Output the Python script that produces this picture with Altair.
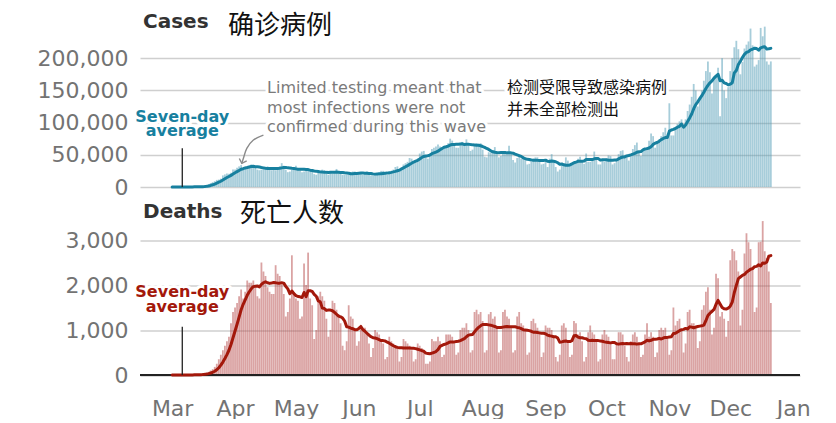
import altair as alt
import pandas as pd

START_DATE = "2020-03-01"

# ---------------- daily confirmed cases (Mar 1 - Dec 21, 2020) ----------------
CASES_MAR = [20, 25, 20, 30, 70, 80, 100, 120, 190, 190,
             300, 450, 550, 650, 800, 1000, 1500, 2500, 4600, 6000,
             7500, 9000, 11000, 11500, 13000, 18000, 19500, 21000, 20500, 22000, 27000]
CASES_APR = [27000, 30000, 32000, 34000, 27000, 30000, 32000, 33000, 35000, 34000,
             30000, 27000, 26000, 27000, 29000, 31000, 32000, 29000, 26000, 28000,
             26000, 30000, 32000, 37000, 33000, 27000, 23000, 24000, 27000, 30000]
CASES_MAY = [33000, 29000, 26000, 23000, 24000, 25000, 29000, 27000, 26000, 20000,
             19000, 22000, 21000, 27000, 26000, 24000, 19000, 22000, 21000, 22000,
             28000, 24000, 22000, 19000, 19000, 19000, 19000, 22000, 24000, 24000, 20000]
CASES_JUN = [21000, 21000, 19000, 21000, 24000, 22000, 18000, 17000, 19000, 21000,
             22000, 25000, 25000, 20000, 19000, 23000, 25000, 27000, 31000, 32000,
             27000, 31000, 35000, 37000, 39000, 45000, 44000, 40000, 41000, 44000]
CASES_JUL = [52000, 55000, 56000, 48000, 44000, 48000, 59000, 61000, 63000, 66000,
             63000, 59000, 61000, 64000, 68000, 75000, 72000, 64000, 61000, 61000,
             66000, 70000, 68000, 74000, 66000, 56000, 58000, 65000, 68000, 67000, 68000]
CASES_AUG = [58000, 47000, 46000, 54000, 53000, 57000, 62000, 55000, 46000, 48000,
             53000, 55000, 52000, 64000, 53000, 42000, 38000, 45000, 47000, 44000,
             48000, 44000, 35000, 36000, 39000, 44000, 46000, 46000, 43000, 35000, 36000]
CASES_SEP = [42000, 31000, 44000, 51000, 40000, 31000, 24000, 27000, 33000, 35000,
             46000, 41000, 34000, 35000, 39000, 40000, 44000, 47000, 42000, 36000,
             52000, 39000, 39000, 43000, 55000, 46000, 35000, 35000, 42000, 39000]
CASES_OCT = [44000, 49000, 48000, 35000, 37000, 42000, 51000, 56000, 57000, 49000,
             46000, 41000, 49000, 59000, 65000, 69000, 54000, 48000, 59000, 60000,
             62000, 72000, 83000, 79000, 61000, 67000, 74000, 79000, 85000, 92000, 80000]
CASES_NOV = [130000, 80000, 80000, 90000, 98000, 102000, 105000, 95000, 105000, 118000,
             128000, 140000, 160000, 150000, 125000, 140000, 150000, 165000, 180000, 195000,
             178000, 145000, 170000, 172000, 185000, 110000, 200000, 150000, 138000, 155000]
CASES_DEC = [180000, 200000, 217000, 227000, 214000, 175000, 194000, 215000, 221000, 226000,
             246000, 220000, 187000, 190000, 197000, 247000, 234000, 249000, 195000, 190000, 195000]

# ---------------- daily deaths (Mar 1 - Dec 21, 2020) ----------------
DEATHS_MAR = [0, 1, 1, 2, 1, 2, 1, 2, 3, 4,
              4, 6, 8, 8, 15, 25, 35, 50, 70, 100,
              130, 180, 250, 350, 450, 550, 650, 750, 850, 1150, 1400]
DEATHS_APR = [1500, 1600, 1750, 1900, 1700, 1850, 2100, 2050, 2050, 2100,
              1950, 1750, 1700, 2500, 2300, 2200, 1950, 1850, 1800, 1800,
              2440, 2250, 2200, 2000, 1800, 1300, 1400, 1700, 2660, 1800]
DEATHS_MAY = [1700, 1650, 1250, 1300, 2480, 2000, 2720, 1700, 1550, 800,
              1000, 1750, 1850, 1750, 1650, 1250, 850, 1000, 1650, 1600,
              1450, 1350, 1150, 650, 550, 750, 1550, 1300, 1250, 1000, 650]
DEATHS_JUN = [750, 1050, 1050, 1050, 950, 700, 400, 600, 1000, 950,
              900, 800, 700, 350, 400, 850, 750, 700, 650, 600,
              300, 400, 800, 750, 700, 650, 550, 300, 350, 700]
DEATHS_JUL = [650, 600, 550, 250, 250, 300, 800, 750, 750, 850,
              750, 400, 450, 900, 900, 900, 850, 750, 450, 500,
              1000, 1050, 1050, 1150, 1000, 500, 550, 1400, 1450, 1350, 1400]
DEATHS_AUG = [1200, 500, 550, 1350, 1400, 1250, 1300, 1050, 500, 550,
              1400, 1450, 1300, 1250, 1050, 500, 550, 1300, 1400, 1150,
              1100, 1000, 450, 500, 1200, 1250, 1150, 1050, 950, 400, 500]
DEATHS_SEP = [1100, 1050, 1050, 1000, 850, 400, 300, 450, 1100, 1150,
              1050, 750, 400, 450, 1200, 1150, 900, 950, 750, 300,
              400, 950, 1100, 950, 900, 750, 300, 350, 900, 1000]
DEATHS_OCT = [900, 850, 700, 350, 350, 700, 950, 950, 900, 650,
              400, 300, 750, 900, 950, 850, 700, 400, 450, 900,
              1150, 850, 950, 850, 400, 500, 1000, 1050, 1000, 1050, 850]
DEATHS_NOV = [450, 550, 1500, 1100, 1200, 1250, 1000, 500, 700, 1400,
              1450, 1150, 1150, 1100, 600, 750, 1450, 1550, 1850, 1950,
              1450, 900, 1050, 2250, 2150, 1300, 1400, 1250, 850, 1200]
DEATHS_DEC = [2550, 2800, 2750, 2550, 2300, 1100, 1450, 2700, 3150, 2950,
              2800, 2400, 1400, 1500, 2950, 2960, 3420, 2750, 2600, 2300, 1600]

CASES = (CASES_MAR + CASES_APR + CASES_MAY + CASES_JUN + CASES_JUL + CASES_AUG
         + CASES_SEP + CASES_OCT + CASES_NOV + CASES_DEC)
DEATHS = (DEATHS_MAR + DEATHS_APR + DEATHS_MAY + DEATHS_JUN + DEATHS_JUL + DEATHS_AUG
          + DEATHS_SEP + DEATHS_OCT + DEATHS_NOV + DEATHS_DEC)

CASES_TICKS = [0, 50000, 100000, 150000, 200000]
DEATHS_TICKS = [0, 1000, 2000, 3000]

# annotation texts and their anchor (date, value) in data space
CASES_TITLE = ["Cases"]
CASES_TITLE_CN = ["确诊病例"]
DEATHS_TITLE = ["Deaths"]
DEATHS_TITLE_CN = ["死亡人数"]
AVG_LABEL = ["Seven-day", "average"]
NOTE_EN = ["Limited testing meant that", "most infections were not", "confirmed during this wave"]
NOTE_CN = ["检测受限导致感染病例", "并未全部检测出"]

TEAL = "#17809f"
TEAL_BAR = "#4f9bb5"
RED = "#a3180b"
RED_BAR = "#b54848"
GRID = "#cfcfcf"
LABEL = "#737373"

dates = pd.date_range(START_DATE, periods=len(CASES), freq="D").strftime("%Y-%m-%dT%H:%M:%S")
cases_df = pd.DataFrame({"date": dates, "value": CASES})
deaths_df = pd.DataFrame({"date": dates, "value": DEATHS})

x_scale = alt.Scale(domain=[alt.DateTime(year=2020, month=2, date=14, hours=4),
                            alt.DateTime(year=2021, month=1, date=4, hours=9)],
                    padding=0)


def x_enc(show_axis):
    if show_axis:
        ax = alt.Axis(format="%b", tickCount={"interval": "month", "step": 1}, grid=False,
                      domain=False, ticks=False, labelPadding=23, labelFlush=False,
                      labelOverlap=False, title=None, labelFont="DejaVu Sans",
                      labelFontSize=22, labelColor=LABEL)
        return alt.X("date:T", scale=x_scale, axis=ax)
    return alt.X("date:T", scale=x_scale, axis=None)


def y_enc(field, maxv, ticks):
    return alt.Y(field, scale=alt.Scale(domain=[0, maxv], nice=False),
                 axis=alt.Axis(values=ticks, format=",.0f", title=None, grid=True,
                               gridColor=GRID, gridWidth=1.5, domain=False, ticks=False,
                               labelPadding=12, labelFont="DejaVu Sans", labelFontSize=22,
                               labelColor=LABEL))


def text_layers(dates_, values, labels, xe, ye, font, size, color, weight="normal", halo=6):
    df = pd.DataFrame({"date": dates_, "value": values, "label": labels})
    base = alt.Chart(df).encode(x=xe, y=ye, text="label:N")
    props = dict(align="left", baseline="alphabetic", font=font, fontSize=size, fontWeight=weight)
    layers = []
    if halo:
        layers.append(base.mark_text(color="white", stroke="white", strokeWidth=halo,
                                     strokeJoin="round", **props))
    layers.append(base.mark_text(color=color, **props))
    return layers


def centered_layers(dates_, values, labels, xe, ye, color):
    df = pd.DataFrame({"date": dates_, "value": values, "label": labels})
    base = alt.Chart(df).encode(x=xe, y=ye, text="label:N")
    props = dict(align="center", baseline="alphabetic", font="DejaVu Sans", fontSize=16,
                 fontWeight="bold")
    return [base.mark_text(color="white", stroke="white", strokeWidth=6, strokeJoin="round", **props),
            base.mark_text(color=color, **props)]


# ---------------- cases panel ----------------
xc = x_enc(False)
yc = y_enc("value:Q", 250000, CASES_TICKS)

cases_bars = alt.Chart(cases_df).mark_bar(width=1.8, color=TEAL_BAR, opacity=0.5).encode(x=xc, y=yc)
cases_line = alt.Chart(cases_df).transform_window(
    avg="mean(value)", frame=[-6, 0], sort=[alt.SortField("date")]
).mark_line(color=TEAL, strokeWidth=3, strokeJoin="round", strokeCap="round").encode(
    x=xc, y=y_enc("avg:Q", 250000, CASES_TICKS))

cases_leader = alt.Chart(pd.DataFrame({"date": ["2020-03-06T00:00:00"], "value": [0], "top": [60000]})).mark_rule(
    color="#222", strokeWidth=1.3).encode(x=xc, y=yc, y2="top:Q")

arrow_df = pd.DataFrame({
    "date": ["2020-04-14T23:30:00", "2020-04-10T01:00:00", "2020-04-06T19:00:00",
             "2020-04-05T03:00:00", "2020-04-04T08:00:00"],
    "value": [80600, 72900, 60000, 44500, 36700],
    "i": [0, 1, 2, 3, 4]})
cases_arrow = alt.Chart(arrow_df).mark_line(color="#8a8a8a", strokeWidth=1.4, interpolate="cardinal").encode(
    x=xc, y=yc, order="i:Q")
cases_arrowhead = alt.Chart(arrow_df.tail(1)).mark_point(
    shape="M-1,-1L0,0L1,-1", filled=False, color="#8a8a8a", strokeWidth=1.4, size=60, angle=18,
    opacity=1).encode(x=xc, y=yc)

cases_layers = [cases_bars, cases_line, cases_leader, cases_arrow, cases_arrowhead]
cases_layers += text_layers(["2020-02-15T16:00:00"], [246500], CASES_TITLE, xc, yc,
                            "DejaVu Sans", 20, "#333333", "bold", halo=0)
cases_layers += text_layers(["2020-03-28T14:00:00"], [237200], CASES_TITLE_CN, xc, yc,
                            "Noto Sans CJK SC", 26, "#111111", halo=0)
cases_layers += centered_layers(["2020-03-06T00:00:00"] * 2, [101600, 79100], AVG_LABEL, xc, yc, TEAL)
cases_layers += text_layers(["2020-04-16T19:00:00"] * 3, [145300, 115200, 85700], NOTE_EN, xc, yc,
                            "DejaVu Sans", 16, "#7a7a7a")
cases_layers += text_layers(["2020-08-13T00:00:00"] * 2, [145700, 111600], NOTE_CN, xc, yc,
                            "Noto Sans CJK SC", 16, "#111111")

cases_chart = alt.layer(*cases_layers).properties(width=660, height=161)

# ---------------- deaths panel ----------------
xd = x_enc(True)
yd = y_enc("value:Q", 3500, DEATHS_TICKS)

deaths_bars = alt.Chart(deaths_df).mark_bar(width=1.8, color=RED_BAR, opacity=0.5).encode(x=xd, y=yd)
deaths_zero = alt.Chart(pd.DataFrame({"value": [0]})).mark_rule(color="#222", strokeWidth=2).encode(y=yd)
deaths_line = alt.Chart(deaths_df).transform_window(
    avg="mean(value)", frame=[-6, 0], sort=[alt.SortField("date")]
).mark_line(color=RED, strokeWidth=3, strokeJoin="round", strokeCap="round").encode(
    x=xd, y=y_enc("avg:Q", 3500, DEATHS_TICKS))
deaths_leader = alt.Chart(pd.DataFrame({"date": ["2020-03-06T00:00:00"], "value": [0], "top": [1073]})).mark_rule(
    color="#222", strokeWidth=1.3).encode(x=xd, y=yd, y2="top:Q")

deaths_layers = [deaths_bars, deaths_zero, deaths_line, deaths_leader]
deaths_layers += text_layers(["2020-02-15T16:00:00"], [3496], DEATHS_TITLE, xd, yd,
                             "DejaVu Sans", 20, "#333333", "bold", halo=0)
deaths_layers += text_layers(["2020-04-03T12:00:00"], [3400], DEATHS_TITLE_CN, xd, yd,
                             "Noto Sans CJK SC", 26, "#111111", halo=0)
deaths_layers += centered_layers(["2020-03-06T00:00:00"] * 2, [1740, 1407], AVG_LABEL, xd, yd, RED)

deaths_chart = alt.layer(*deaths_layers).properties(width=660, height=157.5)

chart = alt.vconcat(cases_chart, deaths_chart, spacing=30.5, bounds="flush").properties(
    padding={"left": 29, "top": 4, "right": 5, "bottom": 0}, background="white"
).configure_view(stroke=None).configure_axis(
    labelFont="DejaVu Sans", labelFontSize=22, labelColor=LABEL
)

chart.save("out.html", embed_options={"renderer": "svg", "actions": False})
